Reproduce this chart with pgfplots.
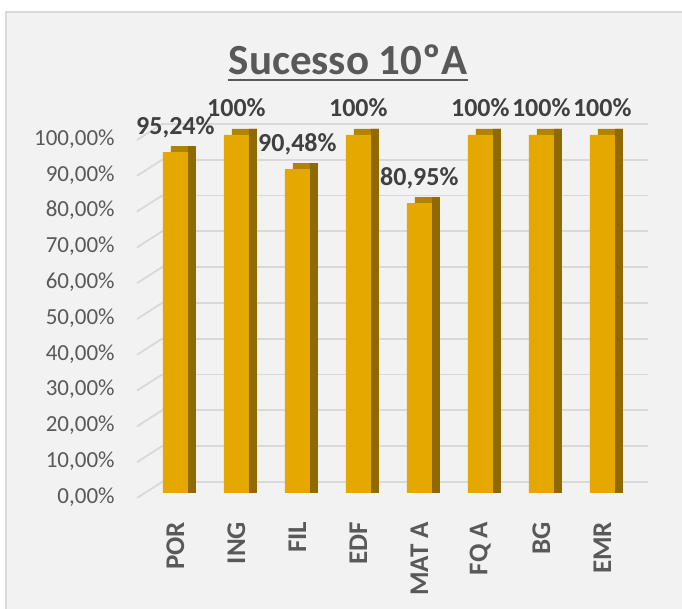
\documentclass[border=0pt]{standalone}
\usepackage{fontspec}
\setmainfont{Carlito}
\usepackage{pgfplots}
\usepackage{pgfplotstable}
\pgfplotsset{compat=1.18}
\definecolor{bg}{HTML}{F2F2F2}
\definecolor{bordc}{HTML}{D9D9D9}
\definecolor{gridc}{HTML}{D9D9D9}
\definecolor{txt}{HTML}{595959}
\definecolor{lbl}{HTML}{404040}
\definecolor{frontc}{HTML}{E4A800}
\definecolor{topc}{HTML}{B08300}
\definecolor{sidec}{HTML}{8F6A00}

\pgfplotstableread{
x y
0 95.24
1 100
2 90.48
3 100
4 80.95
5 100
6 100
7 100
}\data

\begin{document}
\begin{tikzpicture}
\begin{scope}[x=0.5pt,y=0.5pt]
\useasboundingbox (0,0) rectangle (682,609);
\fill[white] (0,0) rectangle (682,609);
\filldraw[fill=bg, draw=bordc, line width=1pt] (6,-20) rectangle (700,597);
\node[anchor=base, inner sep=0pt, font=\bfseries\fontsize{21.5}{25}\selectfont, text=txt] (title) at (348,609-75) {Sucesso 10ºA};
\draw[txt, line width=1.1pt] ([yshift=-2.7pt]title.base west) -- ([yshift=-2.7pt]title.base east);
\end{scope}
\begin{axis}[
  at={(68.5pt,58pt)}, anchor=south west,
  scale only axis, width=243pt, height=179pt,
  xmin=-0.63, xmax=7.34, ymin=0, ymax=100,
  clip=false,
  axis line style={draw=none},
  tick style={draw=none},
  ymajorgrids,
  major grid style={draw=gridc, line width=0.9pt, xshift=12.5pt, yshift=5.5pt},
  ytick={0,10,20,30,40,50,60,70,80,90,100},
  yticklabels={{0,00\%},{10,00\%},{20,00\%},{30,00\%},{40,00\%},{50,00\%},{60,00\%},{70,00\%},{80,00\%},{90,00\%},{100,00\%}},
  /pgf/number format/assume math mode=true,
  yticklabel style={font=\fontsize{11.5}{13}\selectfont, text=txt, anchor=east, inner sep=0pt, yshift=-2pt},
  yticklabel shift=11pt,
  xtick=data,
  xticklabels={POR,ING,FIL,EDF,MAT A,FQ A,BG,EMR},
  xticklabel style={font=\bfseries\fontsize{13.5}{15}\selectfont, text=txt, rotate=90, anchor=east, inner sep=0pt, xshift=-1.5pt},
  xticklabel shift=8.5pt,
  ybar, bar width=12.5pt,
]
\pgfplotsinvokeforeach{0,10,20,30,40,50,60,70,80,90,100}{
  \draw[gridc, line width=0.9pt] ([yshift=-2.5pt]axis cs:-0.63,#1) -- ([xshift=12.5pt,yshift=5.5pt]axis cs:-0.63,#1);
}
\addplot[fill=topc, draw=none, bar shift=4pt] table[x=x, y expr=\thisrow{y}+1.68] {\data};
\addplot[fill=sidec, draw=none, bar shift=8.25pt, bar width=4pt] table[x=x, y expr=\thisrow{y}+1.68] {\data};
\addplot[fill=frontc, draw=none, bar shift=0pt,
  nodes near coords={\pgfmathprintnumber[fixed,precision=2,use comma]{\pgfplotspointmeta}\%},
  nodes near coords style={font=\bfseries\fontsize{13}{15}\selectfont, text=lbl, anchor=base, inner sep=0pt, yshift=9pt},
] table[x=x, y=y] {\data};
\end{axis}
\end{tikzpicture}
\end{document}
